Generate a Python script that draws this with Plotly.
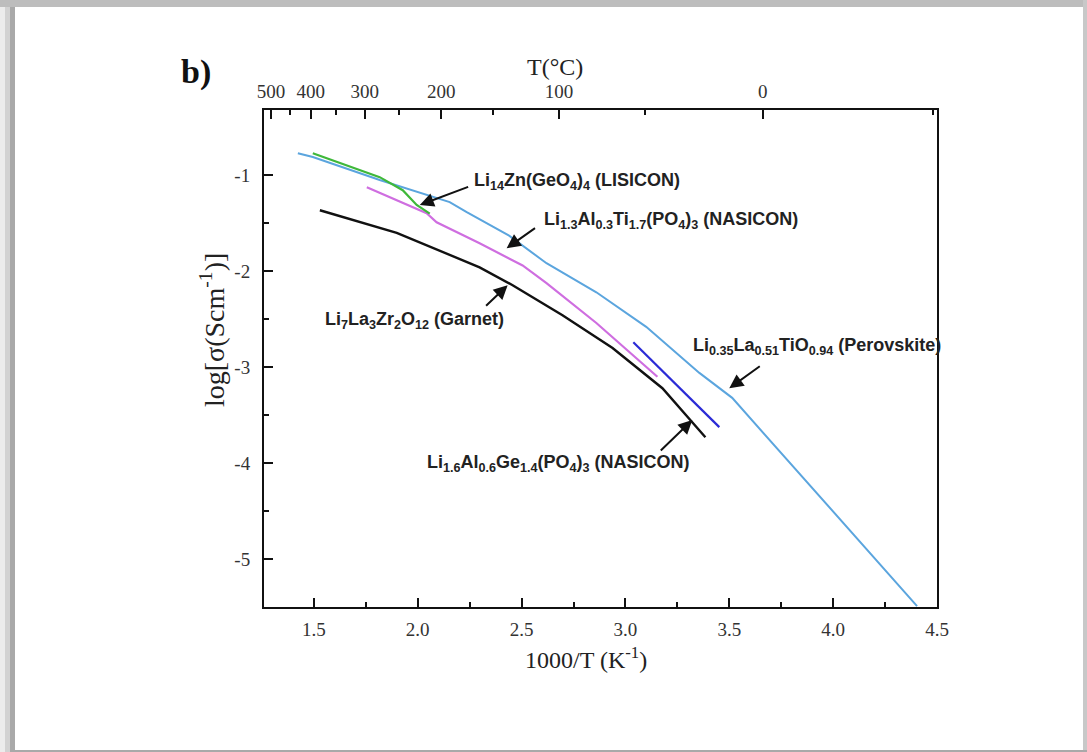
import plotly.graph_objects as go

# ---- data ----
perov_x = [1.423, 1.495, 1.817, 2.01, 2.154, 2.236, 2.44, 2.62, 2.86, 3.10, 3.356, 3.514, 4.404]
perov_y = [-0.77, -0.81, -1.05, -1.18, -1.28, -1.385, -1.63, -1.917, -2.22, -2.58, -3.06, -3.32, -5.49]

lisicon_x = [1.495, 1.659, 1.817, 1.928, 1.995, 2.058]
lisicon_y = [-0.77, -0.90, -1.02, -1.156, -1.31, -1.40]

latp_x = [1.755, 2.043, 2.091, 2.298, 2.505, 2.62, 2.86, 3.154]
latp_y = [-1.125, -1.396, -1.49, -1.71, -1.94, -2.125, -2.54, -3.10]

garnet_x = [1.529, 1.899, 2.298, 2.457, 2.697, 2.938, 3.178, 3.341, 3.385]
garnet_y = [-1.365, -1.60, -1.96, -2.146, -2.46, -2.80, -3.22, -3.625, -3.73]

lagp_x = [3.038, 3.452]
lagp_y = [-2.74, -3.625]

top_major_T = [500, 400, 300, 200, 100, 0]
top_minor_T = [450, 350, 250, 150, 50, -50]
y_ticks = [-1, -2, -3, -4, -5]
y_minor = [-1.5, -2.5, -3.5, -4.5]
x_ticks = [1.5, 2.0, 2.5, 3.0, 3.5, 4.0, 4.5]
x_minor = [1.75, 2.25, 2.75, 3.25, 3.75, 4.25]

labels = {
    "lisicon": "Li<sub>14</sub>Zn(GeO<sub>4</sub>)<sub>4</sub> (LISICON)",
    "latp": "Li<sub>1.3</sub>Al<sub>0.3</sub>Ti<sub>1.7</sub>(PO<sub>4</sub>)<sub>3</sub> (NASICON)",
    "garnet": "Li<sub>7</sub>La<sub>3</sub>Zr<sub>2</sub>O<sub>12</sub> (Garnet)",
    "perov": "Li<sub>0.35</sub>La<sub>0.51</sub>TiO<sub>0.94</sub> (Perovskite)",
    "lagp": "Li<sub>1.6</sub>Al<sub>0.6</sub>Ge<sub>1.4</sub>(PO<sub>4</sub>)<sub>3</sub> (NASICON)",
}

# annotation anchors: text (x_left, y_mid), arrow tail, arrow tip
text_pos = {"lisicon": (2.26, -1.07), "latp": (2.596, -1.47), "garnet": (1.543, -2.51),
            "perov": (3.317, -2.79), "lagp": (2.034, -4.0)}
arrow_tail = {"lisicon": (2.25, -1.115), "latp": (2.572, -1.54), "garnet": (2.322, -2.375),
              "perov": (3.654, -2.98), "lagp": (3.163, -3.885)}
arrow_tip = {"lisicon": (2.01, -1.31), "latp": (2.428, -1.76), "garnet": (2.433, -2.146),
             "perov": (3.50, -3.22), "lagp": (3.322, -3.55)}

X_RANGE = [1.26, 4.5]
Y_RANGE = [-5.5, -0.32]

fig = go.Figure()
fig.add_trace(go.Scatter(x=perov_x, y=perov_y, mode="lines", line=dict(color="#5ba5de", width=2)))
fig.add_trace(go.Scatter(x=garnet_x, y=garnet_y, mode="lines", line=dict(color="#111111", width=2.4)))
fig.add_trace(go.Scatter(x=latp_x, y=latp_y, mode="lines", line=dict(color="#cf6ee0", width=2.2)))
fig.add_trace(go.Scatter(x=lisicon_x, y=lisicon_y, mode="lines", line=dict(color="#3fb83a", width=2.2)))
fig.add_trace(go.Scatter(x=lagp_x, y=lagp_y, mode="lines", line=dict(color="#2b2bd6", width=2.2)))
fig.add_trace(go.Scatter(x=[], y=[], xaxis="x2", showlegend=False))

SERIF = "Liberation Serif, Times New Roman, serif"
tick_font = dict(family=SERIF, size=19, color="#333333")
title_font = dict(family=SERIF, size=24, color="#222222")
ann_font = dict(family="Liberation Sans, Arial, sans-serif", size=18, color="#222222")

W, H = 1087, 752
L, R, T, B = 264, 150, 110, 145
pw, ph = W - L - R, H - T - B


def px2paper_x(px):
    return (px - L) / pw


def py2paper_y(py):
    return (H - B - py) / ph


annotations = []
for k in labels:
    tx, ty = text_pos[k]
    annotations.append(dict(x=tx, y=ty, xref="x", yref="y", text="<b>" + labels[k] + "</b>",
                            showarrow=False, xanchor="left", yanchor="middle", font=ann_font))
    (ax_, ay_), (px_, py_) = arrow_tail[k], arrow_tip[k]
    annotations.append(dict(x=px_, y=py_, xref="x", yref="y", ax=ax_, ay=ay_, axref="x", ayref="y",
                            text="", showarrow=True, arrowhead=2, arrowsize=1.4, arrowwidth=2,
                            arrowcolor="#111111"))

annotations.append(dict(x=px2paper_x(179), y=py2paper_y(72), xref="paper", yref="paper", text="<b>b)</b>",
                        showarrow=False, xanchor="left", yanchor="middle",
                        font=dict(family=SERIF, size=34, color="#111111")))
annotations.append(dict(x=px2paper_x(586), y=py2paper_y(658), xref="paper", yref="paper",
                        text="1000/T (K<sup>-1</sup>)", showarrow=False, xanchor="center", yanchor="middle",
                        font=title_font))
annotations.append(dict(x=px2paper_x(555), y=py2paper_y(67), xref="paper", yref="paper",
                        text="T(°C)", showarrow=False, xanchor="center", yanchor="middle",
                        font=title_font))
annotations.append(dict(x=px2paper_x(212), y=py2paper_y(330), xref="paper", yref="paper",
                        text="log[σ(Scm<sup>-1</sup>)]", showarrow=False, xanchor="center", yanchor="middle",
                        textangle=-90, font=dict(family=SERIF, size=28, color="#222222")))

# grey screenshot frame
shapes = []
for (x0, x1, c) in [(0, 5, "#ececec"), (5, 10, "#d2d2d2"), (10, 15, "#a9a9a9")]:
    shapes.append(dict(type="rect", xref="paper", yref="paper", x0=px2paper_x(x0), x1=px2paper_x(x1),
                       y0=py2paper_y(H), y1=py2paper_y(0), fillcolor=c, line=dict(width=0), layer="below"))
shapes.append(dict(type="rect", xref="paper", yref="paper", x0=px2paper_x(0), x1=px2paper_x(W),
                   y0=py2paper_y(7), y1=py2paper_y(0), fillcolor="#bdbdbd", line=dict(width=0), layer="below"))
shapes.append(dict(type="rect", xref="paper", yref="paper", x0=px2paper_x(W - 4), x1=px2paper_x(W),
                   y0=py2paper_y(H), y1=py2paper_y(0), fillcolor="#c8c8c8", line=dict(width=0), layer="below"))
shapes.append(dict(type="rect", xref="paper", yref="paper", x0=px2paper_x(15), x1=px2paper_x(W),
                   y0=py2paper_y(H), y1=py2paper_y(H - 2), fillcolor="#a9a9a9", line=dict(width=0), layer="below"))

axis_common = dict(ticks="inside", ticklen=9, tickwidth=2, tickcolor="#111111",
                   showline=True, linecolor="#111111", linewidth=2,
                   showgrid=False, zeroline=False, tickfont=tick_font)

fig.update_layout(
    width=W, height=H,
    margin=dict(l=L, r=R, t=T, b=B),
    paper_bgcolor="white", plot_bgcolor="white",
    showlegend=False,
    annotations=annotations,
    shapes=shapes,
    xaxis=dict(range=X_RANGE, tickvals=x_ticks, ticktext=["%.1f" % v for v in x_ticks],
               minor=dict(tickvals=x_minor, ticks="inside", ticklen=5, tickwidth=2, tickcolor="#111111"),
               mirror=False, ticklabelstandoff=4, **axis_common),
    xaxis2=dict(overlaying="x", side="top", range=X_RANGE,
                tickvals=[1000.0 / (t + 273.15) for t in top_major_T], ticktext=[str(t) for t in top_major_T],
                minor=dict(tickvals=[1000.0 / (t + 273.15) for t in top_minor_T], ticks="inside", ticklen=5,
                           tickwidth=2, tickcolor="#111111"),
                ticklabelstandoff=2, **axis_common),
    yaxis=dict(range=Y_RANGE, tickvals=y_ticks, ticktext=[str(v) for v in y_ticks],
               minor=dict(tickvals=y_minor, ticks="inside", ticklen=5, tickwidth=2, tickcolor="#111111"),
               mirror=True, ticklabelstandoff=8, **axis_common),
)

fig.write_html("out.html", config={"displayModeBar": False},
               post_script="document.body.style.margin='0';document.body.style.padding='0';")
